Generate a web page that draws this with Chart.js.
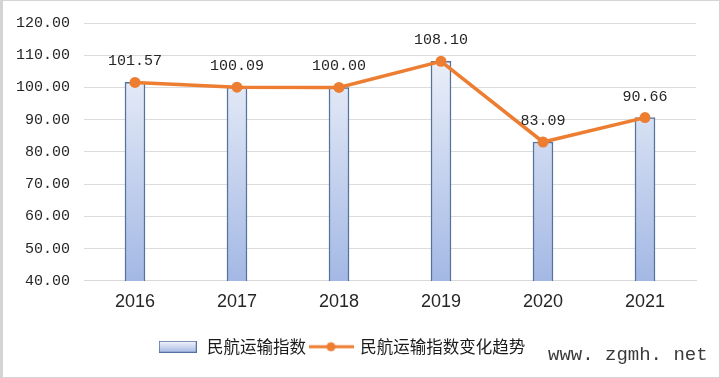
<!DOCTYPE html>
<html>
<head>
<meta charset="utf-8">
<script src="https://cdn.jsdelivr.net/npm/chart.js@4"></script>
<style>
  html, body { margin: 0; padding: 0; background: #fff; }
  #wrap { position: relative; width: 720px; height: 378px; }
  #frame { position: absolute; left: 0; top: 0; width: 720px; height: 378px; box-sizing: border-box; border: 1px solid #d4d4d4; border-left: 3px solid #d4d4d4; pointer-events: none; }
  #mark { position: absolute; left: 548px; top: 344px; font: 19px "Liberation Mono", monospace; color: #3a3a3a; }
</style>
</head>
<body>
<div id="wrap">
  <canvas id="chart" width="720" height="378"></canvas>
  <div id="frame"></div>
  <div id="mark">www. zgmh. net</div>
</div>
<script>
const years = ['2016', '2017', '2018', '2019', '2020', '2021'];
const indexValues = [101.57, 100.09, 100.00, 108.10, 83.09, 90.66];
const seriesNames = ['民航运输指数', '民航运输指数变化趋势'];

const ORANGE = '#ED7D31';
const BAR_BORDER = '#56739f';

function barGradient(ctx) {
  const area = ctx.chart.chartArea;
  if (!area) return '#c5d3ee';
  const g = ctx.chart.ctx.createLinearGradient(0, area.top, 0, area.bottom);
  g.addColorStop(0, '#f6f8fc');
  g.addColorStop(1, '#a3b8e4');
  return g;
}

// legend markers
function barMarker() {
  const cv = document.createElement('canvas');
  cv.width = 38; cv.height = 12;
  const x = cv.getContext('2d');
  const g = x.createLinearGradient(0, 0, 0, 12);
  g.addColorStop(0, '#f6f8fc');
  g.addColorStop(1, '#a3b8e4');
  x.fillStyle = g;
  x.fillRect(0.5, 0.5, 37, 11);
  x.strokeStyle = BAR_BORDER;
  x.lineWidth = 1;
  x.strokeRect(0.5, 0.5, 37, 11);
  return cv;
}
function lineMarker() {
  const cv = document.createElement('canvas');
  cv.width = 45; cv.height = 12;
  const x = cv.getContext('2d');
  x.strokeStyle = ORANGE;
  x.lineWidth = 3;
  x.beginPath(); x.moveTo(0, 6); x.lineTo(45, 6); x.stroke();
  x.fillStyle = ORANGE;
  x.beginPath(); x.arc(22.5, 6, 4.5, 0, Math.PI * 2); x.fill();
  return cv;
}
const markers = [barMarker(), lineMarker()];

const valueLabels = {
  id: 'valueLabels',
  afterDatasetsDraw(chart) {
    const { ctx } = chart;
    const meta = chart.getDatasetMeta(0);
    ctx.save();
    ctx.font = '15px "Liberation Mono", monospace';
    ctx.fillStyle = '#262626';
    ctx.textAlign = 'center';
    ctx.textBaseline = 'middle';
    meta.data.forEach((p, i) => {
      ctx.fillText(indexValues[i].toFixed(2), p.x, p.y - 21);
    });
    ctx.restore();
  }
};

// legend sits a little left of center in the original
const legendShift = {
  id: 'legendShift',
  afterLayout(chart) {
    chart.legend.left -= 7;
    chart.legend.right -= 7;
  }
};

new Chart(document.getElementById('chart'), {
  data: {
    labels: years,
    datasets: [
      {
        type: 'line',
        label: seriesNames[1],
        data: indexValues,
        borderColor: ORANGE,
        backgroundColor: ORANGE,
        borderWidth: 3.5,
        pointRadius: 5.5,
        pointStyle: 'circle',
        pointBackgroundColor: ORANGE,
        pointBorderWidth: 0,
        tension: 0,
        order: 0,
      },
      {
        type: 'bar',
        label: seriesNames[0],
        data: indexValues,
        backgroundColor: barGradient,
        borderColor: BAR_BORDER,
        borderWidth: 1.5,
        barThickness: 20,
        order: 1,
      },
    ],
  },
  plugins: [valueLabels, legendShift],
  options: {
    responsive: false,
    animation: false,
    layout: { padding: { top: 19, right: 24, left: 0, bottom: 13 } },
    scales: {
      x: {
        grid: { display: false },
        border: { color: '#d9d9d9' },
        ticks: { color: '#262626', font: { family: 'Liberation Sans', size: 18 }, padding: 2 },
        afterFit(scale) { scale.height += 20; },
      },
      y: {
        min: 40,
        max: 120,
        ticks: {
          stepSize: 10,
          color: '#262626',
          font: { family: 'Liberation Mono', size: 15 },
          padding: 14,
          callback: v => v.toFixed(2),
        },
        grid: { color: '#dcdcdc', drawTicks: false },
        border: { display: false },
        afterFit(scale) { scale.width = 84; },
      },
    },
    plugins: {
      tooltip: { enabled: false },
      legend: {
        position: 'bottom',
        labels: {
          usePointStyle: true,
          pointStyleWidth: 42,
          color: '#1a1a1a',
          font: { family: 'Noto Sans CJK SC', size: 16.5 },
          padding: 4,
          generateLabels(chart) {
            const items = Chart.defaults.plugins.legend.labels.generateLabels(chart);
            items.forEach(it => { it.pointStyle = markers[it.datasetIndex === 1 ? 0 : 1]; });
            return items.sort((a, b) => b.datasetIndex - a.datasetIndex);
          },
        },
      },
    },
  },
});
</script>
</body>
</html>
